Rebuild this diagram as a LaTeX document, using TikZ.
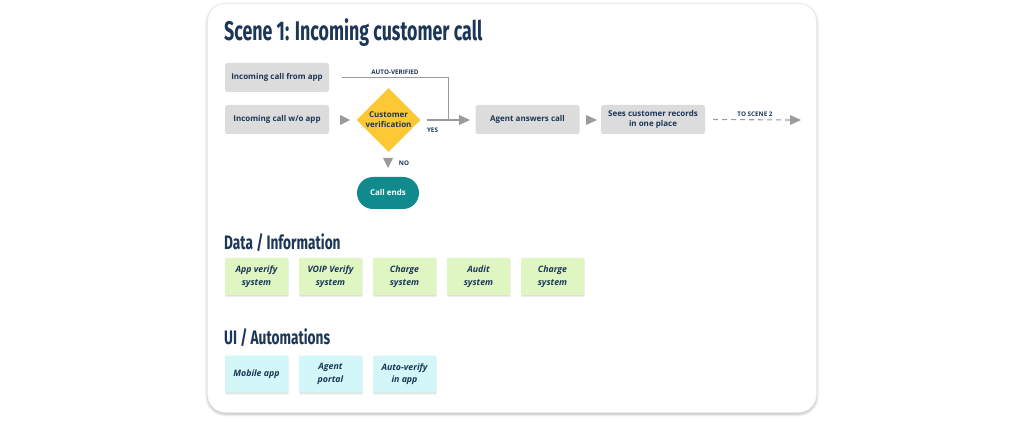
\documentclass[tikz,border=0pt]{standalone}
\usepackage{fontspec}
\setmainfont{Open Sans}
\newfontfamily\titlefont[FakeStretch=0.66]{Fira Sans}
\newfontfamily\headfont[FakeStretch=0.7]{Fira Sans}
\usetikzlibrary{shapes.geometric,arrows.meta,shadows.blur}
\definecolor{navy}{HTML}{1B3657}
\definecolor{boxgray}{HTML}{DCDCDC}
\definecolor{arrgray}{HTML}{9A9A9A}
\definecolor{ylw}{HTML}{FCC934}
\definecolor{teal}{HTML}{108A8C}
\definecolor{notegreen}{HTML}{DFF6C2}
\definecolor{notecyan}{HTML}{D3F6F8}
\begin{document}
\begin{tikzpicture}[x=1pt,y=-1pt,
  every node/.style={text=navy, inner sep=0pt},
  flowbox/.style={fill=boxgray, rounded corners=2.5pt, minimum width=104pt, minimum height=29pt, align=center, font=\fontsize{8}{10}\selectfont\bfseries},
  notebox/.style={rounded corners=0.5pt, minimum width=63pt, minimum height=37pt, align=center, font=\fontsize{8.8}{12.5}\selectfont\itshape\bfseries,
    preaction={fill=black, opacity=0.06, transform canvas={xshift=0.5pt,yshift=-2.2pt}},
    preaction={fill=black, opacity=0.08, transform canvas={xshift=0.3pt,yshift=-1.2pt}}},
  greennote/.style={notebox, fill=notegreen},
  cyannote/.style={notebox, fill=notecyan},
  heading/.style={anchor=west, font=\headfont\fontsize{19.5}{22}\selectfont\bfseries},
  lbl/.style={font=\fontsize{6.3}{7}\selectfont\bfseries},
  tri/.style={fill=arrgray, draw=none},
  conn/.style={draw=arrgray, line width=1.1pt},
]
\useasboundingbox (0,0) rectangle (1024,435);
% card
\node[draw=black!8, line width=0.6pt, fill=white, rounded corners=18pt, minimum width=609pt, minimum height=409pt, blur shadow={shadow xshift=0pt, shadow yshift=-1.5pt, shadow blur radius=3pt, shadow blur steps=6, shadow opacity=30}] (card) at (512,208) {};
% title
\node[anchor=base west, font=\titlefont\fontsize{27}{30}\selectfont\bfseries] (title) at (224,41) {Scene 1: Incoming customer call};
% flow
\node[flowbox] (fromapp) at (277,77.5) {Incoming call from app};
\node[flowbox] (woapp) at (277,119.5) {Incoming call w/o app};
\node[diamond, fill=ylw, minimum width=64pt, minimum height=64pt, aspect=1, align=center, font=\fontsize{8}{10}\selectfont\bfseries] (verif) at (388.5,120) {Customer\\verification};
\node[fill=teal, rounded corners=16pt, minimum width=62pt, minimum height=32pt, text=white, font=\fontsize{8}{10}\selectfont\bfseries] (ends) at (388,193) {Call ends};
\node[flowbox] (agent) at (527.5,119.5) {Agent answers call};
\node[flowbox] (sees) at (653,119.5) {Sees customer records\\in one place};
\coordinate (scene2) at (801,120);
% arrow heads (triangles)
\path[tri] (340,115) -- (350,120) -- (340,125) -- cycle;
\path[tri] (586,115) -- (597,120) -- (586,125) -- cycle;
\path[tri] (383,158) -- (393,158) -- (388,168) -- cycle;
% yes connector
\coordinate (yesend) at (460,120);
\coordinate (autostart) at (342,78);
\coordinate (autocorner) at (448,78);
\draw[conn] (verif.east) ++(6,0) -- (yesend);
\path[tri] (459,115) -- (470,120) -- (459,125) -- cycle;
\draw[draw=arrgray, line width=1pt] (autostart) -- (autocorner) -- (448,120);
\node[lbl] (autolbl) at (395,72) {AUTO-VERIFIED};
\node[lbl] (yeslbl) at (432.5,130) {YES};
\node[lbl] (nolbl) at (404,163) {NO};
% to scene 2
\draw[draw=arrgray, line width=1.1pt, dash pattern=on 5pt off 4pt] (sees.east) ++(8,0) -- (791,120);
\path[tri] (790,115) -- (801,120) -- (790,125) -- cycle;
\node[lbl] (scene2lbl) at (755,114) {TO SCENE 2};
% data / information
\node[heading] (datahead) at (224,243) {Data / Information};
\node[greennote] (n1) at (256.5,276.5) {App verify\\system};
\node[greennote] (n2) at (330.5,276.5) {VOIP Verify\\system};
\node[greennote] (n3) at (404.5,276.5) {Charge\\system};
\node[greennote] (n4) at (478.5,276.5) {Audit\\system};
\node[greennote] (n5) at (552.5,276.5) {Charge\\system};
% UI
\node[heading] (uihead) at (224,338) {UI / Automations};
\node[cyannote] (u1) at (256.5,374) {Mobile app};
\node[cyannote] (u2) at (330.5,374) {Agent\\portal};
\node[cyannote] (u3) at (404.5,374) {Auto-verify\\in app};
\end{tikzpicture}
\end{document}
